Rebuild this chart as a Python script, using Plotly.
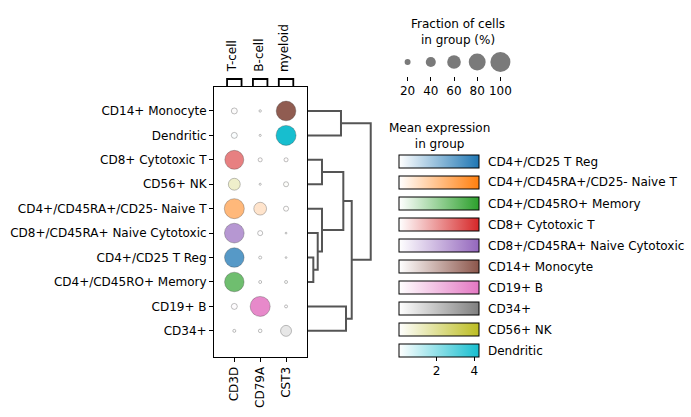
import plotly.graph_objects as go

# ---------------- data ----------------
groups = ['CD14+ Monocyte', 'Dendritic', 'CD8+ Cytotoxic T', 'CD56+ NK',
          'CD4+/CD45RA+/CD25- Naive T', 'CD8+/CD45RA+ Naive Cytotoxic',
          'CD4+/CD25 T Reg', 'CD4+/CD45RO+ Memory', 'CD19+ B', 'CD34+']
genes = ['CD3D', 'CD79A', 'CST3']
gene_groups = ['T-cell', 'B-cell', 'myeloid']

# mean expression per group (CD3D, CD79A, CST3)
mean_expr = {
    'CD14+ Monocyte':               [0.10, 0.00, 4.10],
    'Dendritic':                    [0.10, 0.00, 4.25],
    'CD8+ Cytotoxic T':             [2.50, 0.05, 0.05],
    'CD56+ NK':                     [1.00, 0.00, 0.10],
    'CD4+/CD45RA+/CD25- Naive T':   [2.35, 0.90, 0.05],
    'CD8+/CD45RA+ Naive Cytotoxic': [2.90, 0.05, 0.00],
    'CD4+/CD25 T Reg':              [3.20, 0.00, 0.00],
    'CD4+/CD45RO+ Memory':          [2.90, 0.00, 0.05],
    'CD19+ B':                      [0.10, 3.70, 0.05],
    'CD34+':                        [0.05, 0.05, 0.80],
}
# fraction of cells in group expressing (CD3D, CD79A, CST3)
frac_cells = {
    'CD14+ Monocyte':               [0.20, 0.06, 0.98],
    'Dendritic':                    [0.20, 0.05, 1.00],
    'CD8+ Cytotoxic T':             [0.93, 0.12, 0.12],
    'CD56+ NK':                     [0.50, 0.05, 0.16],
    'CD4+/CD45RA+/CD25- Naive T':   [1.00, 0.55, 0.16],
    'CD8+/CD45RA+ Naive Cytotoxic': [0.98, 0.16, 0.04],
    'CD4+/CD25 T Reg':              [0.97, 0.08, 0.04],
    'CD4+/CD45RO+ Memory':          [0.97, 0.08, 0.08],
    'CD19+ B':                      [0.20, 1.00, 0.08],
    'CD34+':                        [0.08, 0.10, 0.45],
}
group_colors = {
    'CD4+/CD25 T Reg': '#1f77b4',
    'CD4+/CD45RA+/CD25- Naive T': '#ff7f0e',
    'CD4+/CD45RO+ Memory': '#2ca02c',
    'CD8+ Cytotoxic T': '#d62728',
    'CD8+/CD45RA+ Naive Cytotoxic': '#9467bd',
    'CD14+ Monocyte': '#8c564b',
    'CD19+ B': '#e377c2',
    'CD34+': '#7f7f7f',
    'CD56+ NK': '#bcbd22',
    'Dendritic': '#17becf',
}
legend_order = list(group_colors.keys())
size_legend_values = [20, 40, 60, 80, 100]
colorbar_ticks = [2, 4]
expr_min, expr_max = 0.0, 4.25

# dendrogram linkage: node -> (child_a, child_b, height)
linkage = [
    ('n1', 'CD4+/CD25 T Reg', 'CD4+/CD45RO+ Memory', 0.085),
    ('n2', 'CD8+/CD45RA+ Naive Cytotoxic', 'n1', 0.155),
    ('n3', 'CD4+/CD45RA+/CD25- Naive T', 'n2', 0.223),
    ('n4', 'CD8+ Cytotoxic T', 'CD56+ NK', 0.223),
    ('n5', 'n4', 'n3', 0.563),
    ('n6', 'CD19+ B', 'CD34+', 0.606),
    ('n7', 'n5', 'n6', 0.697),
    ('n8', 'CD14+ Monocyte', 'Dendritic', 0.526),
    ('n9', 'n8', 'n7', 1.000),
]

# ---------------- layout helpers ----------------
W, H = 691, 417
FONT = 'DejaVu Sans'
FS = 12
def fx(p):
    return p / W
def fy(p):
    return 1 - p / H

MAX_DIAM = 20  # px diameter of a 100% dot

fig = go.Figure()

# ---------------- main dots ----------------
for i, g in enumerate(groups):
    k = legend_order.index(g) + 1
    ca = 'coloraxis' if k == 1 else f'coloraxis{k}'
    fig.add_trace(go.Scatter(
        x=list(range(len(genes))), y=[i] * len(genes), mode='markers',
        marker=dict(size=[MAX_DIAM * f ** 0.75 for f in frac_cells[g]],
                    color=mean_expr[g], coloraxis=ca,
                    line=dict(color='rgba(60,60,60,0.55)', width=0.6),
                    opacity=1),
        showlegend=False, hoverinfo='skip', xaxis='x', yaxis='y'))

# ---------------- dendrogram ----------------
pos = {g: (float(i), 0.0) for i, g in enumerate(groups)}
dx, dy = [], []
for name, a, b, h in linkage:
    ya, ha = pos[a]
    yb, hb = pos[b]
    dx += [ha, h, h, hb, None]
    dy += [ya, ya, yb, yb, None]
    pos[name] = ((ya + yb) / 2, h)
fig.add_trace(go.Scatter(x=dx, y=dy, mode='lines',
                         line=dict(color='#555555', width=2),
                         showlegend=False, hoverinfo='skip',
                         xaxis='x2', yaxis='y'))

# ---------------- size legend ----------------
fig.add_trace(go.Scatter(
    x=list(range(1, len(size_legend_values) + 1)), y=[0] * len(size_legend_values),
    mode='markers',
    marker=dict(size=[MAX_DIAM * (v / 100) ** 0.75 for v in size_legend_values],
                color='#7a7a7a', opacity=1, line=dict(width=0)),
    showlegend=False, hoverinfo='skip', xaxis='x3', yaxis='y3'))

# ---------------- coloraxes / colorbars ----------------
bar_top0, bar_step, bar_h = 155, 21, 13
layout_ca = {}
annotations = []
for k, g in enumerate(legend_order):
    key = 'coloraxis' if k == 0 else f'coloraxis{k + 1}'
    last = (k == len(legend_order) - 1)
    top = bar_top0 + k * bar_step
    cb = dict(orientation='h', x=fx(399), xanchor='left', y=fy(top), yanchor='top',
              len=80, lenmode='pixels', thickness=bar_h, thicknessmode='pixels',
              xpad=0, ypad=0, outlinewidth=1, outlinecolor='black',
              title=dict(text=''))
    if last:
        cb.update(tickvals=colorbar_ticks, ticks='outside', ticklen=4,
                  tickcolor='black', tickfont=dict(family=FONT, size=FS, color='black'))
    else:
        cb.update(showticklabels=False, ticks='')
    layout_ca[key] = dict(cmin=expr_min, cmax=expr_max,
                          colorscale=[[0, 'white'], [1, group_colors[g]]],
                          colorbar=cb)
    annotations.append(dict(text=g, x=fx(486), y=fy(top + bar_h / 2), xref='paper', yref='paper',
                            xanchor='left', yanchor='middle', showarrow=False,
                            font=dict(family=FONT, size=FS, color='black')))

annotations.append(dict(text='Mean expression<br>in group', x=fx(439), y=fy(136),
                        xref='paper', yref='paper', xanchor='center', yanchor='middle',
                        showarrow=False, font=dict(family=FONT, size=FS, color='black')))
annotations.append(dict(text='Fraction of cells<br>in group (%)', x=fx(458), y=fy(32),
                        xref='paper', yref='paper', xanchor='center', yanchor='middle',
                        showarrow=False, font=dict(family=FONT, size=FS, color='black')))

# gene group brackets and labels
shapes = []
for j, gg in enumerate(gene_groups):
    shapes.append(dict(type='path', xref='x', yref='paper',
                       path=f'M {j - 0.28},{fy(87)} L {j - 0.28},{fy(79)} L {j + 0.28},{fy(79)} L {j + 0.28},{fy(87)}',
                       line=dict(color='black', width=1.8)))
    annotations.append(dict(text=gg, x=j, y=fy(74), xref='x', yref='paper',
                            xanchor='center', yanchor='bottom', textangle=-90, xshift=-2,
                            showarrow=False, font=dict(family=FONT, size=FS, color='black')))

fig.update_layout(
    width=W, height=H, margin=dict(l=0, r=0, t=0, b=0),
    paper_bgcolor='white', plot_bgcolor='white',
    font=dict(family=FONT, size=FS, color='black'),
    xaxis=dict(domain=[fx(214), fx(307)], range=[-0.785, 2.81],
               tickvals=list(range(len(genes))), ticktext=genes, tickangle=-90,
               ticks='outside', ticklen=4, tickcolor='black',
               showline=True, mirror=True, linecolor='black', linewidth=1,
               showgrid=False, zeroline=False, anchor='y'),
    yaxis=dict(domain=[fy(357), fy(87)], range=[10.07, -0.98],
               tickvals=list(range(len(groups))), ticktext=groups,
               ticks='outside', ticklen=4, tickcolor='black',
               showline=True, mirror=True, linecolor='black', linewidth=1,
               showgrid=False, zeroline=False, anchor='x'),
    xaxis2=dict(domain=[fx(308), fx(377)], range=[0, 1.1], visible=False, anchor='y'),
    xaxis3=dict(domain=[fx(396), fx(512)], range=[0.5, 5.5],
                tickvals=list(range(1, len(size_legend_values) + 1)),
                ticktext=[str(v) for v in size_legend_values],
                ticks='outside', ticklen=4, tickcolor='black',
                showline=False, showgrid=False, zeroline=False, anchor='y3'),
    yaxis3=dict(domain=[fy(76), fy(48)], range=[-1, 1], visible=False, anchor='x3'),
    shapes=shapes, annotations=annotations,
    **layout_ca,
)

fig.write_html('out.html', config={'displayModeBar': False},
               post_script="document.body.style.margin='0';document.body.style.overflow='hidden';")
